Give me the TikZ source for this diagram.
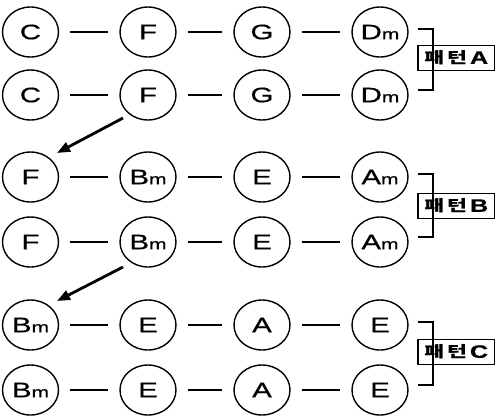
\documentclass[tikz,border=0pt]{standalone}
\usepackage{fontspec}
\usepackage{graphicx}
\setmainfont{Liberation Sans}
\newfontfamily\chordfont{Liberation Sans}[FakeBold=0.6]
\newfontfamily\krfont{Noto Sans CJK KR}
\usetikzlibrary{arrows.meta,shapes.geometric}
\newcommand{\mn}{{\fontsize{15}{15}\selectfont m}}
\newcommand{\sx}[1]{\scalebox{1.4}[1]{#1}}
\begin{document}
\begin{tikzpicture}[x=1pt,y=-1pt,
  chord/.style={draw,line width=1.4pt,ellipse,minimum width=56pt,minimum height=50pt,inner sep=0pt,font=\chordfont\fontsize{21}{21}\selectfont},
  link/.style={line width=1.4pt,shorten >=11pt,shorten <=11pt},
  brk/.style={line width=1.7pt},
  lbl/.style={draw,line width=1.6pt,inner sep=0pt,minimum width=77pt,minimum height=25pt,anchor=west,font=\krfont\bfseries\fontsize{15.5}{15.5}\selectfont},
  mv/.style={line width=2.8pt,-{Triangle[length=13pt,width=10pt]}}]
\useasboundingbox (0,0) rectangle (495,416);
% rows
\foreach \r/\y/\a/\b/\c/\d in {1/32/C/F/G/D\mn, 2/95/C/F/G/D\mn, 3/177/F/B\mn/E/A\mn, 4/242/F/B\mn/E/A\mn, 5/325/B\mn/E/A/E, 6/390/B\mn/E/A/E}{
  \node[chord] (r\r c1) at (30.5,\y) {\sx{\a}};
  \node[chord] (r\r c2) at (148,\y) {\sx{\b}};
  \node[chord] (r\r c3) at (262,\y) {\sx{\c}};
  \node[chord] (r\r c4) at (380,\y) {\sx{\d}};
  \draw[link] (r\r c1) -- (r\r c2);
  \draw[link] (r\r c2) -- (r\r c3);
  \draw[link] (r\r c3) -- (r\r c4);
}
% brackets and labels
\foreach \t/\bt/\bb/\ly/\txt in {1/1/2/58/A, 2/3/4/206/B, 3/5/6/352/C}{
  \coordinate (bt\t) at ([xshift=9pt,yshift=3pt]r\bt c4.east);
  \coordinate (bb\t) at ([xshift=9pt,yshift=5pt]r\bb c4.east);
  \draw[brk] (bt\t) -- ++(15,0) |- (bb\t);
  \node[lbl] (lab\t) at (417,\ly) {\sx{패\hspace{2pt}턴\hspace{2pt}{\chordfont\fontsize{18}{18}\selectfont\txt}}};
}
% arrows
\coordinate (a1s) at (123,118);
\coordinate (a1e) at (57,153);
\coordinate (a2s) at (123,267);
\coordinate (a2e) at (57,301);
\draw[mv] (a1s) -- (a1e);
\draw[mv] (a2s) -- (a2e);
\end{tikzpicture}
\end{document}
